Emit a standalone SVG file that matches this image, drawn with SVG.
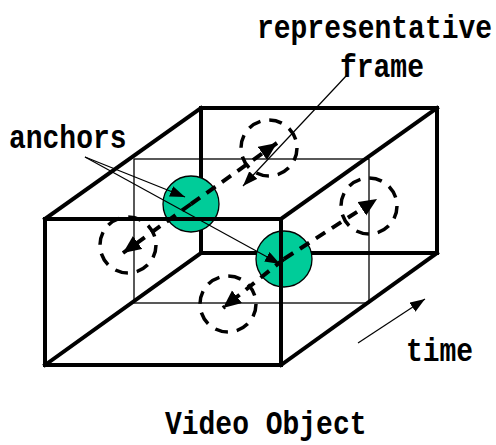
<svg xmlns="http://www.w3.org/2000/svg" width="496" height="445" viewBox="0 0 496 445">
<style>
.thick{fill:none;stroke:#000;stroke-width:4;stroke-linejoin:miter;stroke-linecap:square}
.thin{fill:none;stroke:#000;stroke-width:1.3}
.anchor{fill:#00CC99;stroke:#000;stroke-width:1.3}
.frm{fill:none;stroke:#000;stroke-width:3.5;stroke-dasharray:13 9}
.dash{fill:none;stroke:#000;stroke-width:4;stroke-dasharray:11 8;marker-end:url(#bigHead)}
.ptr{fill:none;stroke:#000;stroke-width:1.2;marker-end:url(#smallHead)}
.lbl{font-family:"Liberation Mono","DejaVu Sans Mono",monospace;font-weight:bold;font-size:28px;fill:#000}
</style>
<defs>
<marker id="bigHead" markerUnits="userSpaceOnUse" markerWidth="19" markerHeight="17" refX="18" refY="8" orient="auto">
<path d="M0,0 L18,8 L0,16 z" fill="#000"/>
</marker>
<marker id="smallHead" markerUnits="userSpaceOnUse" markerWidth="16" markerHeight="12" refX="15" refY="5.5" orient="auto">
<path d="M0,0 L15,5.5 L0,11 z" fill="#000"/>
</marker>
</defs>
<rect width="496" height="445" fill="#fff"/>

<g id="box-back">
<rect class="thick" x="201" y="108" width="236" height="145"/>
<line class="thick" x1="45" y1="219" x2="201" y2="108"/>
<line class="thick" x1="281" y1="219" x2="437" y2="108"/>
<line class="thick" x1="45" y1="365" x2="201" y2="253"/>
<line class="thick" x1="281" y1="365" x2="437" y2="253"/>
</g>
<g id="middle-frame">
<rect class="thin" x="134" y="159" width="235" height="144"/>
</g>
<g id="anchor1"><circle class="anchor" cx="191" cy="204" r="28"/></g>
<g id="anchor2"><circle class="anchor" cx="284" cy="259" r="28"/></g>
<g id="box-front">
<rect class="thick" x="45" y="219" width="236" height="146"/>
</g>
<g id="frame-upper"><circle class="frm" cx="269" cy="148" r="28"/></g>
<g id="frame-right"><circle class="frm" cx="369" cy="206" r="28"/></g>
<g id="frame-left"><circle class="frm" cx="128" cy="245" r="28"/></g>
<g id="frame-bottom"><circle class="frm" cx="228" cy="304" r="28"/></g>

<g id="connectors">
<line class="dash" x1="191" y1="204" x2="277" y2="143"/>
<line class="dash" x1="191" y1="204" x2="123" y2="253"/>
<line class="dash" x1="284" y1="259" x2="377" y2="199"/>
<line class="dash" x1="284" y1="259" x2="223" y2="308"/>
<line class="ptr" x1="347" y1="75" x2="243" y2="186"/>
<line class="ptr" x1="85" y1="157" x2="185" y2="197"/>
<line class="ptr" x1="85" y1="157" x2="280" y2="264"/>
<line class="ptr" x1="358" y1="343" x2="425" y2="299"/>
</g>

<g id="labels">
<text class="lbl" transform="translate(257,38) scale(1,1.2)">representative</text>
<text class="lbl" transform="translate(340,77) scale(1,1.2)">frame</text>
<text class="lbl" transform="translate(9,148) scale(1,1.2)">anchors</text>
<text class="lbl" transform="translate(406,361) scale(1,1.2)">time</text>
<text class="lbl" transform="translate(165,434) scale(1,1.2)">Video Object</text>
</g>
</svg>
